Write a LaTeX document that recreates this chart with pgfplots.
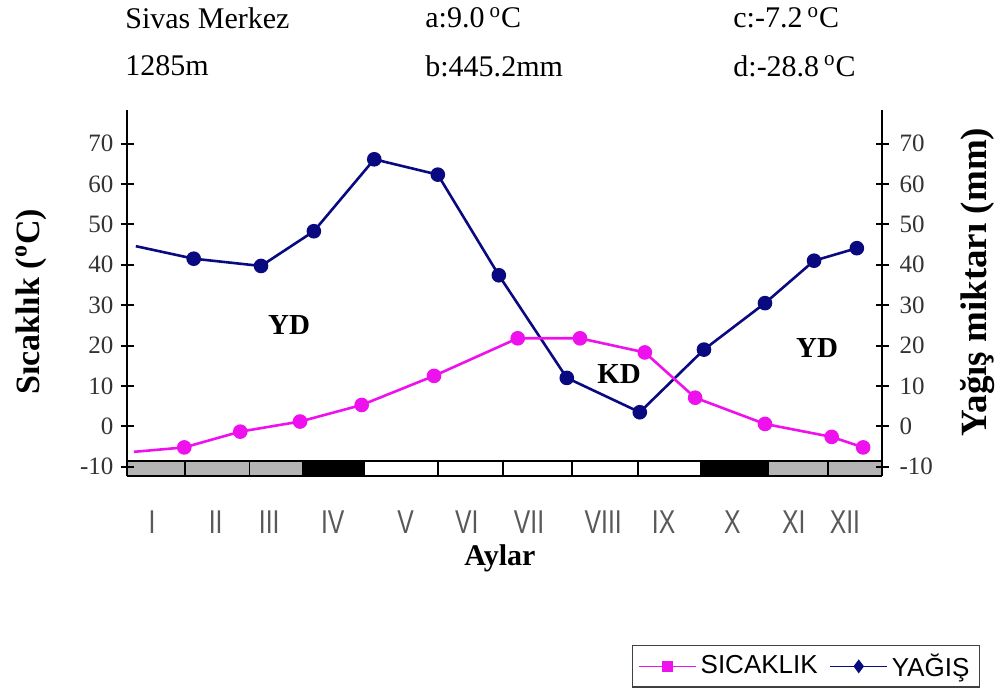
\documentclass[border=0pt]{standalone}
\usepackage{fontspec}
\setmainfont{Liberation Serif}
\setsansfont{Liberation Sans}
\newfontfamily\narrowsans[FakeStretch=0.75]{Liberation Sans}
\usepackage{pgfplots}
\pgfplotsset{compat=1.18}
\definecolor{navyline}{RGB}{10,10,128}
\definecolor{magline}{RGB}{238,17,238}
\definecolor{bandgray}{RGB}{180,180,180}

\begin{document}
\begin{tikzpicture}
\useasboundingbox (0,0) rectangle (502pt,347pt);

% header lines
\begin{scope}[every node/.style={anchor=west, inner sep=0pt, font=\fontsize{15}{17}\selectfont}]
\node at (62.5pt,338pt) {Sivas Merkez};
\node at (62.5pt,314pt) {1285m};
\node at (212.5pt,338pt) {a:9.0\,\textsuperscript{o}C};
\node at (212.5pt,314pt) {b:445.2mm};
\node at (366.5pt,338pt) {c:-7.2\,\textsuperscript{o}C};
\node at (366.5pt,314pt) {d:-28.8\,\textsuperscript{o}C};
\end{scope}

\begin{axis}[
    at={(63.5pt,108.75pt)}, anchor=south west,
    width=377.5pt, height=183.25pt, scale only axis,
    xmin=0, xmax=12, ymin=-12.4, ymax=78.3,
    axis x line*=bottom, axis y line*=left,
    axis line style={line width=1pt},
    axis on top,
    ytick={-10,0,...,70},
    tick align=center, major tick length=6.5pt,
    ytick style={black, line width=1pt},
    xtick={0.40,1.41,2.26,3.27,4.43,5.40,6.39,7.57,8.53,9.62,10.60,11.41},
    xticklabels={I,II,III,IV,V,VI,VII,VIII,IX,X,XI,XII},
    xtick style={draw=none},
    xticklabel style={anchor=center, yshift=-19.5pt, text=black!65,
        font=\narrowsans\fontsize{16.5}{18}\selectfont},
    yticklabel style={text=black!80, font=\fontsize{12.5}{14}\selectfont},
    /pgf/number format/assume math mode=true,
    legend style={at={(1.13,-0.577)}, anchor=south east,
        draw=black!75, line width=0.8pt,
        font=\sffamily\fontsize{13}{15}\selectfont,
        inner xsep=3pt, inner ysep=2pt,
        /tikz/every even column/.append style={column sep=4pt}},
    legend columns=2,
    legend image code/.code={\draw[mark repeat=2,mark phase=2,#1]
        plot coordinates {(0cm,0cm) (0.5cm,0cm) (1cm,0cm)};},
]
% month band along the bottom
\fill[bandgray] (axis cs:0,-12.4) rectangle (axis cs:2.80,-8.6);
\fill[black]    (axis cs:2.80,-12.4) rectangle (axis cs:3.78,-8.6);
\fill[black]    (axis cs:9.11,-12.4) rectangle (axis cs:10.20,-8.6);
\fill[bandgray] (axis cs:10.20,-12.4) rectangle (axis cs:12,-8.6);
\draw[line width=0.8pt] (axis cs:0,-8.6) -- (axis cs:12,-8.6);
\draw[line width=0.8pt] (axis cs:0.92,-12.4) -- (axis cs:0.92,-8.6);
\draw[line width=0.8pt] (axis cs:1.95,-12.4) -- (axis cs:1.95,-8.6);
\draw[line width=0.8pt] (axis cs:4.94,-12.4) -- (axis cs:4.94,-8.6);
\draw[line width=0.8pt] (axis cs:5.98,-12.4) -- (axis cs:5.98,-8.6);
\draw[line width=0.8pt] (axis cs:7.07,-12.4) -- (axis cs:7.07,-8.6);
\draw[line width=0.8pt] (axis cs:8.12,-12.4) -- (axis cs:8.12,-8.6);
\draw[line width=0.8pt] (axis cs:11.14,-12.4) -- (axis cs:11.14,-8.6);
\draw[line width=0.8pt] (axis cs:2.80,-13.4) -- (axis cs:2.80,-8.6);

% wrap-around segments at the left edge (no marker)
\addplot[navyline, line width=1.3pt, forget plot]
    coordinates {(0.14,44.6) (1.06,41.5)};
\addplot[magline, line width=1.3pt, forget plot]
    coordinates {(0.11,-6.3) (0.91,-5.2)};

% YAGIS (mm)
\addplot[navyline, line width=1.3pt, mark=*, mark size=3pt,
    mark options={fill=navyline, draw=navyline}, forget plot] coordinates {
    (1.06,41.5) (2.13,39.7) (2.97,48.3) (3.93,66.1) (4.94,62.3) (5.91,37.4)
    (6.99,12.0) (8.15,3.5) (9.17,19.0) (10.14,30.5) (10.92,41.0) (11.60,44.1)
};
% SICAKLIK (C)
\addplot[magline, line width=1.3pt, mark=*, mark size=3pt,
    mark options={fill=magline, draw=magline}, forget plot] coordinates {
    (0.91,-5.2) (1.80,-1.3) (2.75,1.2) (3.73,5.3) (4.88,12.5) (6.21,21.8)
    (7.20,21.8) (8.23,18.3) (9.03,7.1) (10.14,0.6) (11.20,-2.6) (11.70,-5.2)
};

\addlegendimage{magline, line width=0.6pt, mark=square*, mark size=2.6pt,
    mark options={fill=magline, draw=magline}}
\addlegendentry{SICAKLIK}
\addlegendimage{navyline, line width=0.6pt, mark=diamond*, mark size=3pt,
    mark options={fill=navyline, draw=navyline}}
\addlegendentry{YAĞIŞ}
\end{axis}

\begin{axis}[
    at={(63.5pt,108.75pt)}, anchor=south west,
    width=377.5pt, height=183.25pt, scale only axis,
    xmin=0, xmax=12, ymin=-12.4, ymax=78.3,
    axis x line=none, axis y line*=right,
    axis line style={line width=1pt},
    ytick={-10,0,...,70},
    tick align=center, major tick length=6.5pt,
    ytick style={black, line width=1pt},
    yticklabel style={text=black!80, font=\fontsize{12.5}{14}\selectfont, xshift=2pt},
    /pgf/number format/assume math mode=true,
]
\end{axis}

% annotations and axis titles
\node[font=\bfseries\fontsize{14.5}{16}\selectfont] at (144.5pt,184.5pt) {YD};
\node[font=\bfseries\fontsize{14.5}{16}\selectfont] at (408.5pt,173pt) {YD};
\node[font=\bfseries\fontsize{14.5}{16}\selectfont] at (309.5pt,160pt) {KD};
\node[font=\bfseries\fontsize{17}{19}\selectfont, rotate=90] at (15.5pt,196pt)
    {Sıcaklık (\textsuperscript{o}C)};
\node[font=\bfseries\fontsize{18.5}{20}\selectfont, rotate=90] at (489pt,206pt)
    {Yağış miktarı (mm)};
\node[font=\bfseries\fontsize{15}{17}\selectfont] at (250pt,68pt) {Aylar};
\end{tikzpicture}
\end{document}
